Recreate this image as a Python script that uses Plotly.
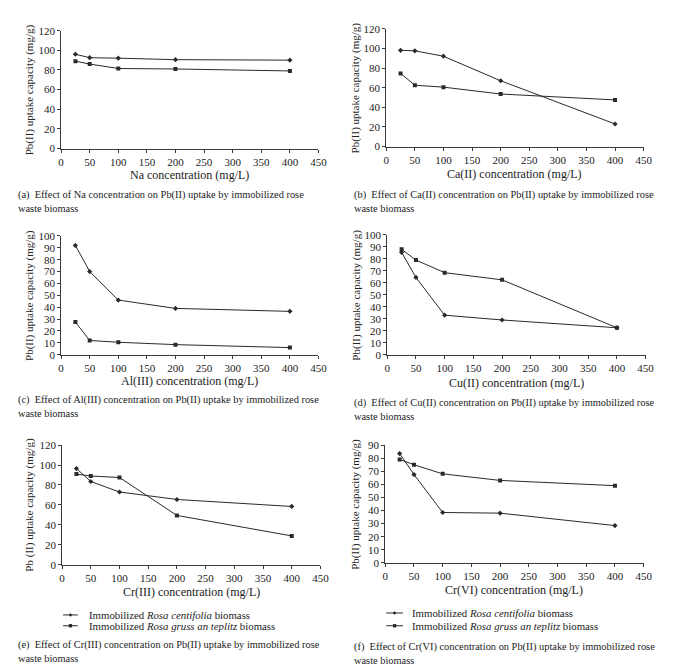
import plotly.graph_objects as go

W, H = 681, 664
FONT = "Liberation Serif"
INK = "#2a2a2a"
AXC = "#3a3a3a"
TXT = "#222"

conc = [25, 50, 100, 200, 400]
x_ticks = [0, 50, 100, 150, 200, 250, 300, 350, 400, 450]

# (a) Na
na_centifolia = [96, 92.5, 92, 90.5, 90]
na_gruss = [89, 86, 81.5, 81, 79]
# (b) Ca(II)
ca_centifolia = [98, 97.5, 92, 67, 23]
ca_gruss = [74.5, 62.5, 60.5, 53.5, 47.5]
# (c) Al(III)
al_centifolia = [92, 70, 46, 39, 36.5]
al_gruss = [27.5, 12, 10.5, 8.5, 6]
# (d) Cu(II)
cu_centifolia = [85.5, 64.5, 33, 29, 22.5]
cu_gruss = [88, 79, 68.5, 62.5, 22.5]
# (e) Cr(III)
cr3_centifolia = [96.5, 83.5, 73, 65.5, 58.5]
cr3_gruss = [91, 89, 87.5, 49.5, 29]
# (f) Cr(VI)
cr6_centifolia = [83.5, 67.5, 38.5, 38, 28.5]
cr6_gruss = [79, 75, 68, 63, 59]

name_centifolia = "Immobilized <i>Rosa centifolia</i> biomass"
name_gruss = "Immobilized <i>Rosa gruss an teplitz</i> biomass"

x_titles = ["Na concentration (mg/L)", "Ca(II) concentration (mg/L)",
            "Al(III) concentration (mg/L)", "Cu(II) concentration (mg/L)",
            "Cr(III) concentration (mg/L)", "Cr(VI) concentration (mg/L)"]
y_titles = ["Pb(II) uptake capacity (mg/g)", "Pb(II) uptake capacity (mg/g)",
            "Pb(II) uptake capacity (mg/g)", "Pb(II) uptake capacity (mg/g)",
            "Pb (II) uptake capacity (mg/g)", "Pb(II) uptake capacity (mg/g)"]
captions = [
    "(a)  Effect of Na concentration on Pb(II) uptake by immobilized rose<br>waste biomass",
    "(b)  Effect of Ca(II) concentration on Pb(II) uptake by immobilized rose<br>waste biomass",
    "(c)  Effect of Al(III) concentration on Pb(II) uptake by immobilized rose<br>waste biomass",
    "(d)  Effect of Cu(II) concentration on Pb(II) uptake by immobilized rose<br>waste biomass",
    "(e)  Effect of Cr(III) concentration on Pb(II) uptake by immobilized rose<br>waste biomass",
    "(f)  Effect of Cr(VI) concentration on Pb(II) uptake by immobilized rose<br>waste biomass",
]
y_max = [120, 120, 100, 100, 120, 90]
y_dtick = [20, 20, 10, 10, 20, 10]
series = [(na_centifolia, na_gruss), (ca_centifolia, ca_gruss), (al_centifolia, al_gruss),
          (cu_centifolia, cu_gruss), (cr3_centifolia, cr3_gruss), (cr6_centifolia, cr6_gruss)]

# pixel boxes of plot areas: (left, right, top, bottom)
boxes = [(51, 313, 17, 137), (382, 644, 15, 135),
         (51, 313, 226, 347), (383, 646, 225, 347),
         (52, 315, 439, 561), (381, 644, 439, 559)]
ytitle_x = [19, 351, 19, 352, 19, 351]
xtitle_y = [164, 163, 374, 376, 589, 587]
caption_pos = [(5, 183), (347, 183), (5, 392), (347, 395), (5, 641), (347, 643)]
# manual legends under (e) and (f): (sample_x0, sample_x1, text_x, row1_y, row2_y)
legend_pos = [(53, 68, 77, 612, 623), (382, 399, 406, 610, 623)]


def px(x):
    return x / W


def py(y):
    return 1 - y / H


fig = go.Figure()
layout = dict(width=W, height=H, margin=dict(l=0, r=0, t=0, b=0),
              paper_bgcolor="white", plot_bgcolor="white",
              font=dict(family=FONT, size=11, color=TXT),
              showlegend=False)
annotations = []
shapes = []

for i in range(6):
    k = "" if i == 0 else str(i + 1)
    l, r, t, b = boxes[i]
    axis_common = dict(showline=True, linecolor=AXC, linewidth=1, ticks="outside",
                       ticklen=3, tickcolor=AXC, tickwidth=1, showgrid=False,
                       zeroline=False, tickfont=dict(family=FONT, size=11, color=TXT))
    layout["xaxis" + k] = dict(domain=[px(l), px(r)], range=[0, 450], tickvals=x_ticks,
                               anchor="y" + k, **axis_common)
    layout["yaxis" + k] = dict(domain=[py(b), py(t)], range=[0, y_max[i]], dtick=y_dtick[i],
                               anchor="x" + k, **axis_common)
    cen, gru = series[i]
    for vals, nm, sym, sz in ((cen, name_centifolia, "diamond", 4),
                              (gru, name_gruss, "square", 4)):
        fig.add_trace(go.Scatter(
            x=conc, y=vals, mode="lines+markers", name=nm,
            xaxis="x" + k, yaxis="y" + k,
            line=dict(color=INK, width=1),
            marker=dict(symbol=sym, size=sz, color=INK),
        ))
    annotations.append(dict(text=y_titles[i], x=px(ytitle_x[i]), y=py((t + b) / 2),
                            xref="paper", yref="paper", showarrow=False, textangle=-90,
                            xanchor="center", yanchor="middle",
                            font=dict(family=FONT, size=11, color=TXT)))
    annotations.append(dict(text=x_titles[i], x=px((l + r) / 2), y=py(xtitle_y[i]),
                            xref="paper", yref="paper", showarrow=False,
                            xanchor="center", yanchor="middle",
                            font=dict(family=FONT, size=12, color=TXT)))
    cx, cy = caption_pos[i]
    annotations.append(dict(text=captions[i], x=px(cx), y=py(cy - 7), xref="paper",
                            yref="paper", showarrow=False, xanchor="left", yanchor="top",
                            align="left",
                            font=dict(family=FONT, size=10.4, color=TXT)))

# legends (drawn as shapes + text, below panels e and f)
for (sx0, sx1, tx, r1, r2) in legend_pos:
    mx = (sx0 + sx1) / 2
    for ry, nm, sym in ((r1, name_centifolia, "diamond"), (r2, name_gruss, "square")):
        shapes.append(dict(type="line", xref="paper", yref="paper",
                           x0=px(sx0), x1=px(sx1), y0=py(ry), y1=py(ry),
                           line=dict(color=INK, width=1)))
        if sym == "square":
            shapes.append(dict(type="rect", xref="paper", yref="paper",
                               x0=px(mx - 1.7), x1=px(mx + 1.7), y0=py(ry + 1.7), y1=py(ry - 1.7),
                               fillcolor=INK, line=dict(width=0)))
        else:
            path = "M {:.5f} {:.5f} L {:.5f} {:.5f} L {:.5f} {:.5f} L {:.5f} {:.5f} Z".format(
                px(mx - 1.8), py(ry), px(mx), py(ry - 1.8), px(mx + 1.8), py(ry), px(mx), py(ry + 1.8))
            shapes.append(dict(type="path", xref="paper", yref="paper", path=path,
                               fillcolor=INK, line=dict(width=0)))
        annotations.append(dict(text=nm, x=px(tx), y=py(ry), xref="paper", yref="paper",
                                showarrow=False, xanchor="left", yanchor="middle",
                                font=dict(family=FONT, size=10.8, color=TXT)))

layout["annotations"] = annotations
layout["shapes"] = shapes
fig.update_layout(**layout)

fig.write_html("out.html")
